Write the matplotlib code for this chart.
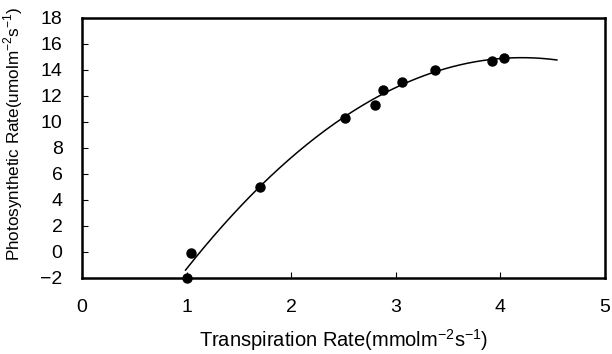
import numpy as np
import matplotlib
matplotlib.use("Agg")
import matplotlib.pyplot as plt

plt.rcParams["font.family"] = ["Liberation Sans", "DejaVu Sans"]
plt.rcParams["mathtext.fontset"] = "custom"
plt.rcParams["mathtext.rm"] = "Liberation Sans"

# Measured points
transpiration = [1.00, 1.04, 1.70, 2.51, 2.80, 2.88, 3.06, 3.37, 3.92, 4.03]
photosynthesis = [-2.0, -0.1, 5.0, 10.3, 11.3, 12.5, 13.1, 14.0, 14.7, 14.9]

x_ticks = [0, 1, 2, 3, 4, 5]
y_ticks = [-2, 0, 2, 4, 6, 8, 10, 12, 14, 16, 18]

# Quadratic trend line through the points
coef = np.polyfit(transpiration, photosynthesis, 2)
fit_x = np.linspace(0.99, 4.54, 200)
fit_y = np.polyval(coef, fit_x)

fig = plt.figure(figsize=(6.12, 3.54), dpi=100)
ax = fig.add_axes([82 / 612, 1 - 278 / 354, (605 - 82) / 612, (278 - 18) / 354])

ax.plot(fit_x, fit_y, color="black", linewidth=1.1)
ax.plot(transpiration, photosynthesis, "o", color="black", markersize=6.5, clip_on=False)

ax.set_xlim(0, 5)
ax.set_ylim(-2, 18)
ax.set_xticks(x_ticks)
ax.set_yticks(y_ticks)
ax.tick_params(axis="x", direction="in", length=4, width=0.8, pad=15, labelsize=14)
ax.tick_params(axis="y", direction="in", length=4, width=0.8, pad=14, labelsize=14)

for s in ax.spines.values():
    s.set_linewidth(1.8)

ax.set_xlabel(r"Transpiration Rate(mmolm$^{-2}$s$^{-1}$)", fontsize=14.5)
ax.set_ylabel(r"Photosynthetic Rate(umolm$^{-2}$s$^{-1}$)", fontsize=12.3)
ax.xaxis.set_label_coords(0.5, -0.19)
ax.yaxis.set_label_coords(-0.109, 0.555)

fig.savefig("out.png", dpi=100)
